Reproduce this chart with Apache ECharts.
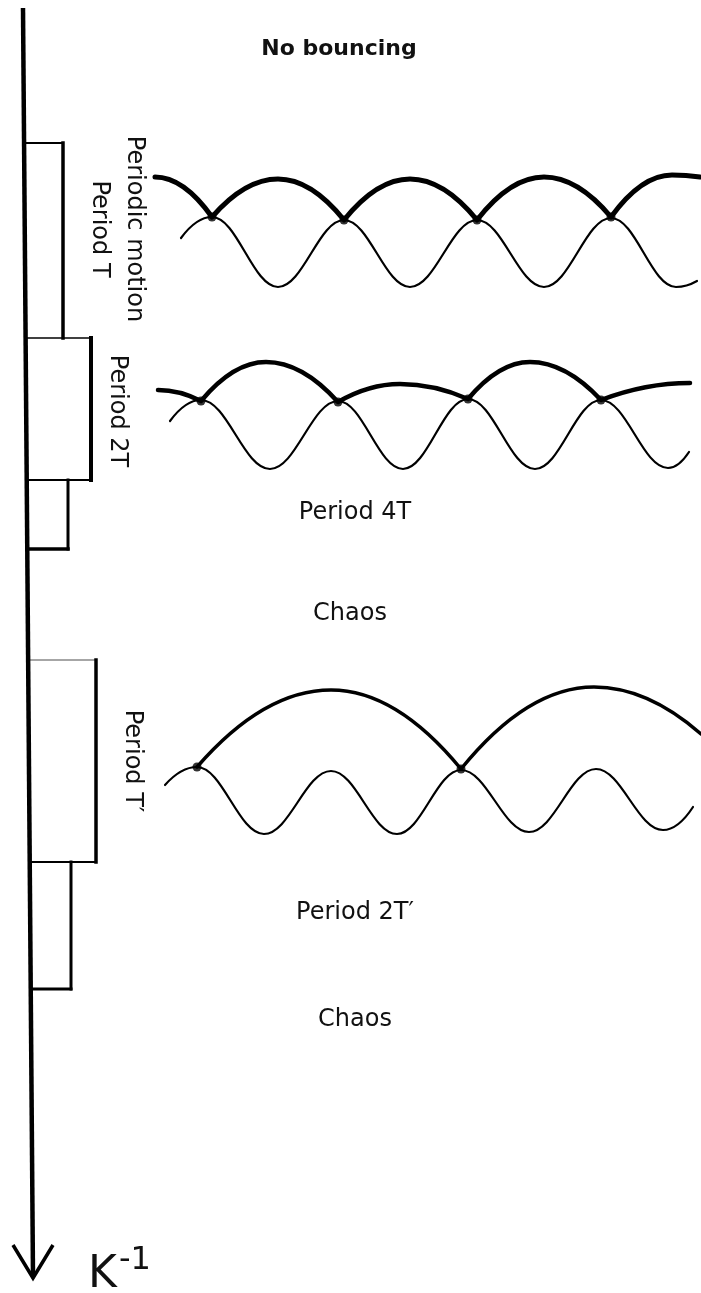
<!DOCTYPE html>
<html>
<head>
<meta charset="utf-8">
<title>Bouncing ball regimes</title>
<script src="https://cdn.jsdelivr.net/npm/echarts@6/dist/echarts.min.js"></script>
<style>
  html, body { margin: 0; padding: 0; background: #fff; }
  #chart { width: 701px; height: 1293px; }
</style>
</head>
<body>
<div id="chart"></div>
<script>
// k^-1 axis, running down the page (diagram units = picture units)
var axisLine = [[23, 8], [33, 1277]];
var arrowHead = [[13, 1245], [33, 1278], [53, 1245]];

// regime bars along the axis
var regimeTop = [143, 338, 480, 660, 862];
var regimeBottom = [338, 480, 549, 862, 989];
var regimeRight = [63, 91, 68, 96, 71];

// table motion (thin) and ball flights (thick)
// third value: 1 = turning point, 0 = cusp or cut end
var table1 = [[181, 238, 0], [212, 217, 1], [278, 287, 1], [344, 220, 1], [410, 287, 1], [477, 220, 1], [544, 287, 1], [611, 218, 1], [676, 287, 1], [697, 281, 0]];
var flight1 = [[155, 177, 1], [212, 217, 0], [278, 179, 1], [344, 220, 0], [410, 179, 1], [477, 220, 0], [544, 177, 1], [611, 217, 0], [672, 175, 1], [700, 177, 0]];
var bounce1 = [[212, 217], [344, 220], [477, 220], [611, 217]];

var table2 = [[170, 421, 0], [201, 400, 1], [270, 469, 1], [338, 401, 1], [403, 469, 1], [468, 399, 1], [535, 469, 1], [601, 400, 1], [668, 468, 1], [689, 452, 0]];
var flight2 = [[158, 390, 1], [201, 401, 0], [266, 362, 1], [338, 402, 0], [400, 384, 1], [468, 399, 0], [530, 362, 1], [601, 400, 0], [690, 383, 1]];
var bounce2 = [[201, 401], [338, 402], [468, 399], [601, 400]];

var table3 = [[165, 785, 0], [197, 767, 1], [264, 834, 1], [331, 771, 1], [397, 834, 1], [461, 770, 1], [529, 832, 1], [596, 769, 1], [663, 830, 1], [693, 807, 0]];
var flight3 = [[197, 767, 0], [331, 690, 1], [461, 769, 0], [594, 687, 1], [701, 734, 0]];
var bounce3 = [[197, 767], [461, 769]];

// edge widths of each bar (top, right, bottom)
var regimeEdges = [
    {top: 2, right: 3.5, bottom: 0},
    {top: 1.5, right: 4, bottom: 1.8},
    {top: 0, right: 3, bottom: 3.5},
    {top: 1.4, right: 3.5, bottom: 1.8, topColor: '#888'},
    {top: 0, right: 3, bottom: 3}
];

var curves = [
    {pts: table1, w: 2.2}, {pts: flight1, w: 5},
    {pts: table2, w: 2.2}, {pts: flight2, w: 4.5},
    {pts: table3, w: 2.2}, {pts: flight3, w: 3.5}
];

var font = '"DejaVu Sans", sans-serif';

function axisXAt(y) {
    var a = axisLine[0], b = axisLine[1];
    return a[0] + (b[0] - a[0]) * (y - a[1]) / (b[1] - a[1]);
}

function renderRegime(params, api) {
    var i = params.dataIndex;
    var top = api.value(0), bottom = api.value(1), right = api.value(2);
    var st = regimeEdges[i];
    var children = [];
    function seg(x1, y1, x2, y2, w, color) {
        var p1 = api.coord([x1, y1]), p2 = api.coord([x2, y2]);
        children.push({
            type: 'line',
            shape: {x1: p1[0], y1: p1[1], x2: p2[0], y2: p2[1]},
            style: {stroke: color || '#000', lineWidth: w, lineCap: 'square'}
        });
    }
    if (st.top) seg(axisXAt(top), top, right, top, st.top, st.topColor);
    if (st.right) seg(right, top, right, bottom, st.right);
    if (st.bottom) seg(axisXAt(bottom), bottom, right, bottom, st.bottom);
    return {type: 'group', children: children};
}

// turning points get flat tangents, cusps get parabola pieces
function renderCurve(params, api) {
    var c = curves[params.dataIndex];
    var p = c.pts.map(function (d) {
        var q = api.coord([d[0], d[1]]);
        return [q[0], q[1], d[2]];
    });
    var s = 'M' + p[0][0] + ' ' + p[0][1];
    for (var i = 1; i < p.length; i++) {
        var a = p[i - 1], b = p[i];
        var mx = (a[0] + b[0]) / 2;
        if (a[2] && b[2]) {
            var h = (b[0] - a[0]) * 0.38;
            s += ' C' + (a[0] + h) + ' ' + a[1] + ' ' + (b[0] - h) + ' ' + b[1] + ' ' + b[0] + ' ' + b[1];
        } else if (a[2]) {
            s += ' Q' + mx + ' ' + a[1] + ' ' + b[0] + ' ' + b[1];
        } else if (b[2]) {
            s += ' Q' + mx + ' ' + b[1] + ' ' + b[0] + ' ' + b[1];
        } else {
            s += ' L' + b[0] + ' ' + b[1];
        }
    }
    return {
        type: 'path',
        shape: {pathData: s},
        style: {fill: null, stroke: '#000', lineWidth: c.w, lineJoin: 'round', lineCap: 'round'}
    };
}

function label(text, x, y, opts) {
    opts = opts || {};
    var size = opts.size || 24;
    return {
        type: 'text',
        x: x, y: y,
        rotation: opts.rot || 0,
        z: 10,
        style: {
            text: text,
            fill: '#111',
            fontFamily: font,
            fontSize: size,
            fontWeight: opts.weight || 'normal',
            lineHeight: opts.lh || size,
            align: opts.align || 'center',
            verticalAlign: 'middle'
        }
    };
}

var chart = echarts.init(document.getElementById('chart'), null, {renderer: 'canvas'});

chart.setOption({
    backgroundColor: '#fff',
    animation: false,
    grid: {left: 0, right: 0, top: 0, bottom: 0},
    xAxis: {type: 'value', min: 0, max: 701, show: false},
    yAxis: {type: 'value', min: 0, max: 1293, inverse: true, show: false},
    series: [
        {
            type: 'custom',
            renderItem: renderRegime,
            data: regimeTop.map(function (t, i) { return [t, regimeBottom[i], regimeRight[i]]; }),
            z: 2
        },
        {
            type: 'line',
            data: axisLine,
            symbol: 'none',
            lineStyle: {color: '#000', width: 4.5},
            z: 3
        },
        {
            type: 'line',
            data: arrowHead,
            symbol: 'none',
            lineStyle: {color: '#000', width: 3.5, join: 'miter'},
            z: 3
        },
        {
            type: 'custom',
            renderItem: renderCurve,
            data: curves.map(function (c) { return [c.pts[0][0], c.pts[0][1]]; }),
            z: 4
        },
        {
            type: 'scatter',
            data: bounce1.concat(bounce2, bounce3),
            symbol: 'circle',
            symbolSize: 9,
            itemStyle: {color: '#000'},
            z: 5
        }
    ],
    graphic: [
        label('No bouncing', 339, 49, {size: 22, weight: 'bold'}),
        label('Periodic motion\nPeriod T', 117, 229, {rot: -Math.PI / 2, lh: 35}),
        label('Period 2T', 117, 411, {rot: -Math.PI / 2}),
        label('Period 4T', 355, 513),
        label('Chaos', 350, 614),
        label('Period T\u2032', 132, 761, {rot: -Math.PI / 2}),
        label('Period 2T\u2032', 355, 913),
        label('Chaos', 355, 1020),
        label('K', 88, 1276, {size: 44, align: 'left'}),
        label('-1', 119, 1261, {size: 32, align: 'left'})
    ]
});
</script>
</body>
</html>
